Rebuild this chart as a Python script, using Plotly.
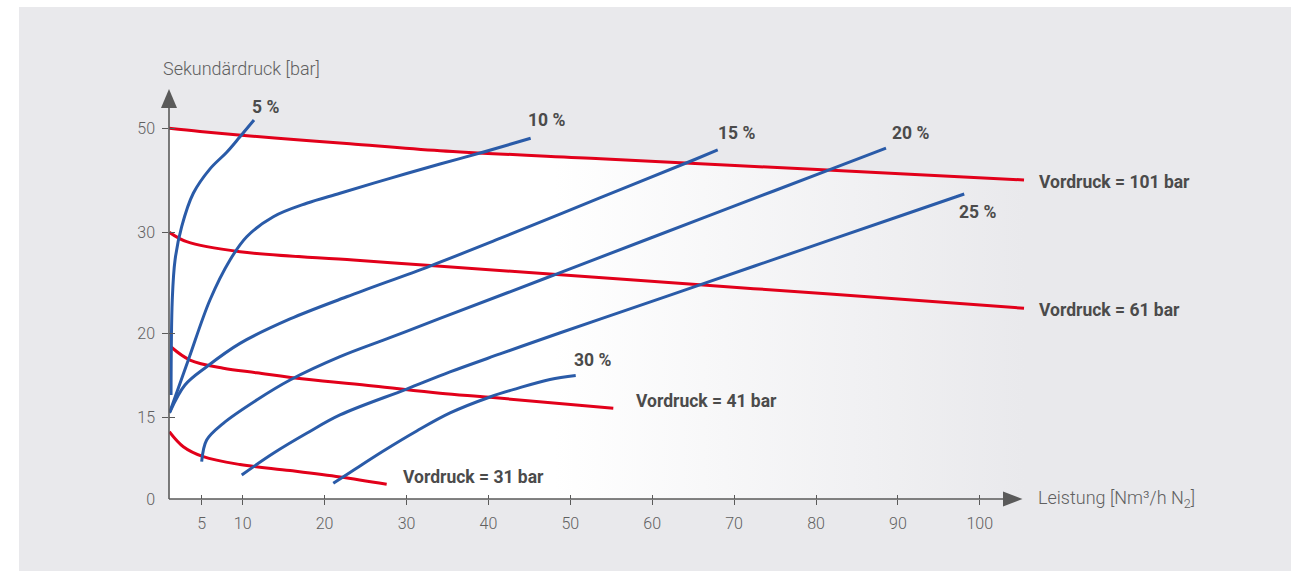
import numpy as np
import plotly.graph_objects as go

# ---------------- data (bar / Nm3/h) ----------------
x_ticks = [5, 10, 20, 30, 40, 50, 60, 70, 80, 90, 100]
y_ticks = [0, 15, 20, 30, 50]

# Vordruck curves (red)
p101_x = [1.0, 4.79, 10.89, 17.0, 23.1, 34.1, 53.7, 70.7, 90.27, 105.4]
p101_y = [50.0, 49.38, 48.52, 47.75, 47.04, 45.69, 44.15, 42.81, 41.27, 40.06]
p61_x = [1.04, 3.16, 9.67, 23.5, 32.9, 47.5, 65.8, 81.7, 105.4]
p61_y = [30.0, 29.07, 28.08, 27.26, 26.71, 25.87, 24.80, 23.89, 22.48]
p41_x = [1.22, 3.56, 7.63, 11.71, 17.81, 25.95, 34.09, 40.2, 55.25]
p41_y = [19.2, 18.41, 17.92, 17.65, 17.26, 16.86, 16.43, 16.19, 15.54]
p31_x = [1.04, 2.75, 5.19, 9.67, 15.78, 21.89, 27.58]
p31_y = [12.36, 9.60, 7.77, 6.33, 5.23, 4.04, 2.70]

# percentage curves (blue)
c5_x = [1.25, 1.40, 1.74, 2.55, 3.97, 6.01, 8.05, 9.67, 11.38]
c5_y = [16.33, 23.3, 27.26, 31.08, 37.5, 42.2, 45.4, 48.38, 51.6]
c10_x = [1.06, 3.36, 6.0, 8.45, 10.49, 13.74, 17.81, 21.88, 27.98, 34.09, 38.97, 45.16]
c10_y = [15.26, 18.41, 23.3, 27.26, 29.56, 33.0, 35.58, 37.5, 40.38, 43.13, 45.25, 48.08]
c15_x = [1.12, 2.95, 5.6, 9.67, 15.78, 22.7, 32.87, 41.4, 53.6, 65.2, 68.0]
c15_y = [15.32, 16.92, 18.01, 19.40, 21.42, 23.62, 26.66, 29.39, 36.6, 44.0, 45.83]
c20_x = [4.99, 5.6, 7.63, 11.71, 15.78, 21.88, 27.98, 34.09, 47.28, 59.73, 70.7, 82.08, 88.55]
c20_y = [6.85, 10.83, 13.9, 16.03, 17.22, 18.61, 19.74, 21.47, 25.55, 29.41, 35.46, 42.29, 46.2]
c25_x = [9.88, 13.74, 17.81, 21.88, 30.02, 35.31, 41.42, 47.12, 53.63, 65.47, 78.05, 90.27, 98.10]
c25_y = [4.41, 8.39, 12.06, 15.14, 16.68, 17.70, 18.77, 19.75, 21.40, 24.70, 28.21, 33.13, 37.37]
c30_x = [21.06, 23.1, 27.17, 31.25, 35.32, 40.2, 43.46, 47.52, 50.66]
c30_y = [2.88, 4.87, 8.81, 12.49, 15.26, 16.21, 16.71, 17.25, 17.49]

pressure_labels = ["Vordruck = 101 bar", "Vordruck = 61 bar", "Vordruck = 41 bar", "Vordruck = 31 bar"]
percent_labels = ["5 %", "10 %", "15 %", "20 %", "25 %", "30 %"]

# ---------------- scale of the broken y axis ----------------
Y_BREAKS = [0, 15, 20, 30, 50]
Y_UNITS = [0, 81.7, 165.7, 266.7, 370.7]
Y_TOP_SLOPE = 5.2


def yscale(v):
    v = np.asarray(v, dtype=float)
    return np.where(v <= 50, np.interp(v, Y_BREAKS, Y_UNITS), Y_UNITS[-1] + (v - 50) * Y_TOP_SLOPE)


# ---------------- layout geometry ----------------
W, H = 1291, 571
L, R, T, B = 169, 1040, 85, 499
X_PX, X_ORIGIN = 8.19, 160.8
x_range = [(L - X_ORIGIN) / X_PX, (R - X_ORIGIN) / X_PX]
y_range = [0, B - T]


def px_x(p):
    return (p - L) / (R - L)


def px_y(p):
    return (B - p) / (B - T)


RED = "#e2001a"
BLUE = "#2a5ba8"
AXIS = "#5a5a5a"
BG = "#e9e9ec"
TXT = "#4b4b4b"
FAM = "Roboto, Liberation Sans, sans-serif"
TICKF = dict(family=FAM, size=16, color="#606060", weight=300)
TITLEF = dict(family=FAM, size=18, color="#606060", weight=300)
BOLD = dict(family=FAM, size=17.5, color=TXT, weight=700)

fig = go.Figure()

# white-to-grey gradient under the top curve
fig.add_trace(go.Scatter(
    x=p101_x, y=yscale(p101_y), mode="lines", line=dict(width=0, shape="spline"),
    fill="tozeroy",
    fillgradient=dict(type="horizontal",
                      colorscale=[[0, "#ffffff"], [0.45, "#ffffff"], [1, BG]]),
    hoverinfo="skip", showlegend=False))

for xs, ys in [(p101_x, p101_y), (p61_x, p61_y), (p41_x, p41_y), (p31_x, p31_y)]:
    fig.add_trace(go.Scatter(x=xs, y=yscale(ys), mode="lines",
                             line=dict(color=RED, width=3, shape="spline", smoothing=1.0),
                             showlegend=False, hoverinfo="skip"))

for xs, ys in [(c5_x, c5_y), (c10_x, c10_y), (c15_x, c15_y), (c20_x, c20_y),
               (c25_x, c25_y), (c30_x, c30_y)]:
    fig.add_trace(go.Scatter(x=xs, y=yscale(ys), mode="lines",
                             line=dict(color=BLUE, width=3, shape="spline", smoothing=1.0),
                             showlegend=False, hoverinfo="skip"))

# dummy traces so overlay axes (used for crossing tick marks) exist
for xa, ya in [("x2", "y"), ("x", "y2"), ("x", "y3")]:
    fig.add_trace(go.Scatter(x=[None], y=[None], xaxis=xa, yaxis=ya,
                             showlegend=False, hoverinfo="skip"))

# ---------------- annotations ----------------
ann = []
# percentage labels: (center px x, center px y)
pct_pos = [(265, 107), (546, 120), (736, 133), (910, 133), (977, 212), (592, 360)]
for txt, (px, py) in zip(percent_labels, pct_pos):
    ann.append(dict(text=txt, x=px_x(px), y=px_y(py), xref="paper", yref="paper",
                    xanchor="center", yanchor="middle", showarrow=False, font=BOLD))
# pressure labels: (left px x, center px y)
prs_pos = [(1037, 182), (1037, 310), (634, 401), (401, 477)]
for txt, (px, py) in zip(pressure_labels, prs_pos):
    ann.append(dict(text=txt, x=px_x(px), y=px_y(py), xref="paper", yref="paper",
                    xanchor="left", yanchor="middle", showarrow=False, font=BOLD))
# axis titles
ann.append(dict(text="Sekundärdruck [bar]", x=px_x(161), y=px_y(68), xref="paper", yref="paper",
                xanchor="left", yanchor="middle", showarrow=False, font=TITLEF))
ann.append(dict(text="Leistung [Nm³/h N<sub>2</sub>]", x=px_x(1036), y=px_y(499), xref="paper",
                yref="paper", xanchor="left", yanchor="middle", showarrow=False, font=TITLEF))

# ---------------- shapes: background, axis lines, arrow heads ----------------
shapes = [
    dict(type="rect", xref="paper", yref="paper", x0=px_x(19), x1=px_x(W + 2),
         y0=px_y(H + 2), y1=px_y(7), fillcolor=BG, line=dict(width=0), layer="below"),
    dict(type="line", xref="paper", yref="paper", x0=0, x1=0, y0=0, y1=px_y(106),
         line=dict(color=AXIS, width=1.6)),
    dict(type="line", xref="paper", yref="paper", x0=0, x1=px_x(1005), y0=0, y1=0,
         line=dict(color=AXIS, width=1.6)),
    dict(type="path", xref="paper", yref="paper", xsizemode="pixel", ysizemode="pixel",
         xanchor=0, yanchor=px_y(108), path="M -8 0 L 0 19 L 8 0 Z",
         fillcolor=AXIS, line=dict(width=0)),
    dict(type="path", xref="paper", yref="paper", xsizemode="pixel", ysizemode="pixel",
         xanchor=px_x(1003), yanchor=0, path="M 0 -7.5 L 19.5 0 L 0 7.5 Z",
         fillcolor=AXIS, line=dict(width=0)),
]

tick_common = dict(showgrid=False, zeroline=False, showline=False, tickcolor=AXIS, tickwidth=1.4)

fig.update_layout(
    width=W, height=H,
    margin=dict(l=L, r=W - R, t=T, b=H - B, pad=0),
    paper_bgcolor="#ffffff", plot_bgcolor="rgba(0,0,0,0)",
    showlegend=False,
    xaxis=dict(range=x_range, tickmode="array", tickvals=x_ticks,
               ticktext=[str(v) for v in x_ticks], ticks="outside", ticklen=5,
               tickfont=TICKF, ticklabelstandoff=5, fixedrange=True, **tick_common),
    xaxis2=dict(range=x_range, overlaying="x", anchor="y", side="bottom", tickmode="array",
                tickvals=x_ticks, ticks="inside", ticklen=4, showticklabels=False,
                fixedrange=True, **tick_common),
    yaxis=dict(range=y_range, tickmode="array", tickvals=list(yscale(y_ticks)),
               ticktext=[str(v) for v in y_ticks], ticks="", tickfont=TICKF,
               ticklabelstandoff=13, fixedrange=True, **tick_common),
    yaxis2=dict(range=y_range, overlaying="y", anchor="x", side="left", tickmode="array",
                tickvals=list(yscale(y_ticks[1:])), ticks="outside", ticklen=6,
                showticklabels=False, fixedrange=True, **tick_common),
    yaxis3=dict(range=y_range, overlaying="y", anchor="x", side="left", tickmode="array",
                tickvals=list(yscale(y_ticks[1:])), ticks="inside", ticklen=6,
                showticklabels=False, fixedrange=True, **tick_common),
    annotations=ann,
    shapes=shapes,
)

fig.write_html("out.html", config={"displayModeBar": False},
               post_script="document.body.style.margin='0';")
